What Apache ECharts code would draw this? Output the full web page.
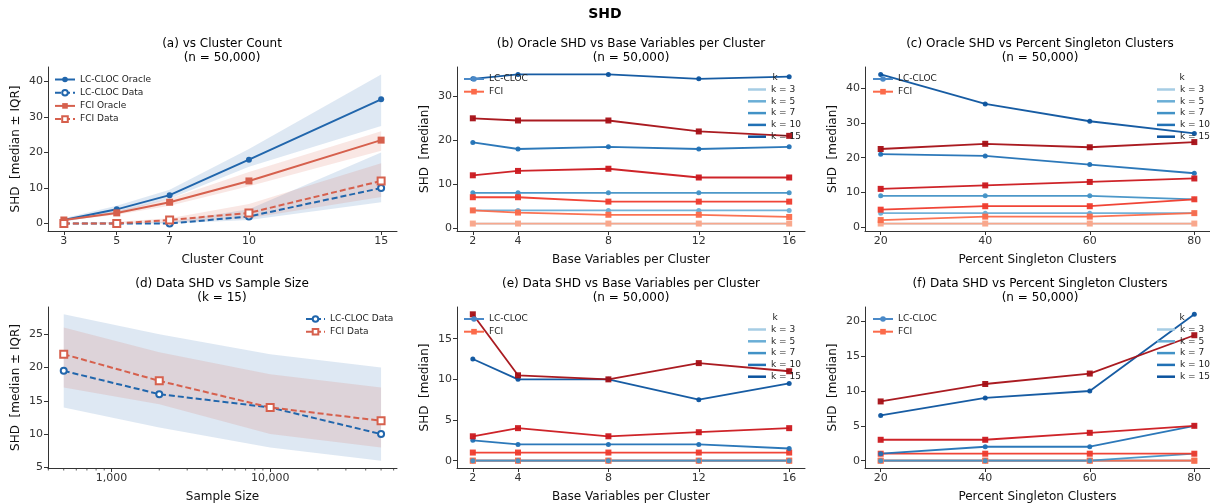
<!DOCTYPE html>
<html>
<head>
<meta charset="UTF-8">
<title>SHD</title>
<script src="https://cdn.jsdelivr.net/npm/echarts@6/dist/echarts.min.js"></script>
<style>
  html, body { margin: 0; padding: 0; background: #fff; }
  #main { width: 1210px; height: 504px; }
</style>
</head>
<body>
<div id="main"></div>
<script>
// ---- data ----
var kLabels = ['k = 3', 'k = 5', 'k = 7', 'k = 10', 'k = 15'];

// (a) vs cluster count
var clusterCounts = [3, 5, 7, 10, 15];
var aLcOracle = [1, 4, 8, 18, 35];
var aLcOracleLo = [0.5, 3, 7, 16, 27.5];
var aLcOracleHi = [1.5, 5, 9.5, 21, 42];
var aLcData = [0, 0, 0, 2, 10];
var aLcDataLo = [0, 0, 0, 1, 6];
var aLcDataHi = [0, 0, 0.5, 4, 20];
var aFciOracle = [1, 3, 6, 12, 23.5];
var aFciOracleLo = [0.8, 2.5, 5, 10.5, 20.5];
var aFciOracleHi = [1.2, 3.5, 7, 14.5, 26];
var aFciData = [0, 0, 1, 3, 12];
var aFciDataLo = [0, 0, 0.3, 1.5, 7.5];
var aFciDataHi = [0, 0.5, 1.5, 5.5, 17];

// (b)/(e) vs base variables per cluster, one row per k
var baseVars = [2, 4, 8, 12, 16];
var bLc = [[1, 1, 1, 1, 1], [4, 4, 4, 4, 4], [8, 8, 8, 8, 8], [19.5, 18, 18.5, 18, 18.5], [34, 35, 35, 34, 34.5]];
var bFci = [[1, 1, 1, 1, 1], [4, 3.5, 3, 3, 2.5], [7, 7, 6, 6, 6], [12, 13, 13.5, 11.5, 11.5], [25, 24.5, 24.5, 22, 21]];
var eLc = [[0, 0, 0, 0, 0], [0, 0, 0, 0, 0], [0, 0, 0, 0, 0], [2.5, 2, 2, 2, 1.5], [12.5, 10, 10, 7.5, 9.5]];
var eFci = [[0, 0, 0, 0, 0], [0, 0, 0, 0, 0], [1, 1, 1, 1, 1], [3, 4, 3, 3.5, 4], [18, 10.5, 10, 12, 11]];

// (c)/(f) vs percent singleton clusters
var singletonPct = [20, 40, 60, 80];
var cLc = [[1, 1, 1, 1], [4, 4, 4, 4], [9, 9, 9, 8], [21, 20.5, 18, 15.5], [44, 35.5, 30.5, 27]];
var cFci = [[1, 1, 1, 1], [2, 3, 3, 4], [5, 6, 6, 8], [11, 12, 13, 14], [22.5, 24, 23, 24.5]];
var fLc = [[0, 0, 0, 0], [0, 0, 0, 0], [0, 0, 0, 1], [1, 2, 2, 5], [6.5, 9, 10, 21]];
var fFci = [[0, 0, 0, 0], [0, 0, 0, 0], [1, 1, 1, 1], [3, 3, 4, 5], [8.5, 11, 12.5, 18]];

// (d) vs sample size (k = 15)
var sampleSizes = [500, 2000, 10000, 50000];
var dLc = [19.5, 16, 14, 10];
var dLcLo = [14, 11, 8, 6];
var dLcHi = [28, 25, 22, 20];
var dFci = [22, 18, 14, 12];
var dFciLo = [17, 14.5, 10, 8];
var dFciHi = [26, 22.3, 19, 17];
var dMinorTicks = [400, 500, 600, 700, 800, 900, 2000, 3000, 4000, 5000, 6000, 7000, 8000, 9000,
                   20000, 30000, 40000, 50000, 60000];

// ---- styling ----
var blue = '#2166ac', red = '#d6604d';
var blues = ['#a6cde4', '#6aaed6', '#4292c6', '#2171b5', '#0b539e'];
var reds = ['#fca588', '#fb6a4a', '#ef3b2c', '#cb181d', '#a50f15'];
var FONT = 'DejaVu Sans';
var AX = '#333';

var grids = [
  {left: 48, top: 67, width: 349, height: 164},
  {left: 457, top: 67, width: 348, height: 164},
  {left: 865, top: 67, width: 349, height: 164},
  {left: 48, top: 307, width: 349, height: 164},
  {left: 457, top: 307, width: 348, height: 164},
  {left: 865, top: 307, width: 349, height: 164}
];

function xAx(gi, opt) {
  return Object.assign({
    gridIndex: gi, type: 'value', nameLocation: 'middle', nameGap: 23,
    nameTextStyle: {fontFamily: FONT, fontSize: 12, color: '#111'},
    axisLine: {show: true, onZero: false, lineStyle: {color: AX, width: 1}},
    axisTick: {show: true, length: 4, lineStyle: {color: AX}},
    axisLabel: {fontFamily: FONT, fontSize: 11, color: '#333', margin: 5},
    splitLine: {show: false}
  }, opt);
}
function yAx(gi, opt) {
  return Object.assign({
    gridIndex: gi, type: 'value', nameLocation: 'middle', nameGap: 26, nameRotate: 90,
    nameTextStyle: {fontFamily: FONT, fontSize: 12, color: '#111'},
    axisLine: {show: true, onZero: false, lineStyle: {color: AX, width: 1}},
    axisTick: {show: true, length: 4, lineStyle: {color: AX}},
    axisLabel: {fontFamily: FONT, fontSize: 11, color: '#333', margin: 5},
    splitLine: {show: false}
  }, opt);
}
function ticks(vals) {
  return {axisTick: {show: true, length: 4, lineStyle: {color: AX}, customValues: vals},
          axisLabel: {fontFamily: FONT, fontSize: 11, color: '#333', margin: 5, customValues: vals}};
}

var xAxes = [
  xAx(0, Object.assign({min: 2.4, max: 15.6, name: 'Cluster Count'}, ticks(clusterCounts))),
  xAx(1, Object.assign({min: 1.3, max: 16.7, name: 'Base Variables per Cluster'}, ticks(baseVars))),
  xAx(2, Object.assign({min: 17, max: 83, name: 'Percent Singleton Clusters'}, ticks(singletonPct))),
  xAx(3, Object.assign({type: 'log', logBase: 10, min: 398, max: 63000, name: 'Sample Size'},
      {axisTick: {show: true, length: 4, lineStyle: {color: AX}, customValues: [1000, 10000]},
       axisLabel: {fontFamily: FONT, fontSize: 11, color: '#333', margin: 5, customValues: [1000, 10000],
                   formatter: function (v) { return v.toLocaleString('en-US'); }}})),
  xAx(4, Object.assign({min: 1.3, max: 16.7, name: 'Base Variables per Cluster'}, ticks(baseVars))),
  xAx(5, Object.assign({min: 17, max: 83, name: 'Percent Singleton Clusters'}, ticks(singletonPct)))
];

var yAxes = [
  yAx(0, Object.assign({min: -2.1, max: 44.1, name: 'SHD  [median \u00b1 IQR]'}, ticks([0, 10, 20, 30, 40]))),
  yAx(1, Object.assign({min: -0.7, max: 36.7, name: 'SHD  [median]'}, ticks([0, 10, 20, 30]))),
  yAx(2, Object.assign({min: -1.15, max: 46.15, name: 'SHD  [median]'}, ticks([0, 10, 20, 30, 40]))),
  yAx(3, Object.assign({min: 4.9, max: 29.1, name: 'SHD  [median \u00b1 IQR]'}, ticks([5, 10, 15, 20, 25]))),
  yAx(4, Object.assign({min: -0.9, max: 18.9, name: 'SHD  [median]'}, ticks([0, 5, 10, 15]))),
  yAx(5, Object.assign({min: -1.05, max: 22.05, name: 'SHD  [median]'}, ticks([0, 5, 10, 15, 20])))
];

function pts(xs, ys) { return xs.map(function (x, i) { return [x, ys[i]]; }); }

function line(name, gi, xs, ys, color, o) {
  o = o || {};
  var item = {color: color, opacity: o.opacity || 1};
  if (o.hollow) { item.borderColor = color; item.borderWidth = 1.4; }
  return {
    type: 'line', name: name, xAxisIndex: gi, yAxisIndex: gi, z: 3,
    data: pts(xs, ys),
    symbol: o.symbol || 'circle', symbolSize: o.size || 5,
    showSymbol: true,
    lineStyle: {color: color, width: o.width || 1.8, type: o.dash ? [6, 3] : 'solid', opacity: o.opacity || 1},
    itemStyle: item,
    emphasis: {disabled: true}, animation: false
  };
}

// shaded IQR band drawn through the axis scale
function band(gi, xs, lo, hi, color) {
  return {
    type: 'custom', xAxisIndex: gi, yAxisIndex: gi, z: 1, silent: true, animation: false,
    data: xs.map(function (x, i) { return [x, lo[i], hi[i]]; }),
    renderItem: function (params, api) {
      if (params.dataIndex !== 0) return null;
      var top = [], bot = [];
      for (var i = 0; i < xs.length; i++) {
        top.push(api.coord([xs[i], hi[i]]));
        bot.unshift(api.coord([xs[i], lo[i]]));
      }
      return {type: 'polygon', shape: {points: top.concat(bot)},
              style: {fill: color, opacity: 0.15}};
    }
  };
}

var series = [];

// (a)
series.push(band(0, clusterCounts, aLcOracleLo, aLcOracleHi, blue));
series.push(band(0, clusterCounts, aLcDataLo, aLcDataHi, blue));
series.push(band(0, clusterCounts, aFciOracleLo, aFciOracleHi, red));
series.push(band(0, clusterCounts, aFciDataLo, aFciDataHi, red));
series.push(line('LC-CLOC Oracle', 0, clusterCounts, aLcOracle, blue, {size: 6, width: 2}));
series.push(line('LC-CLOC Data', 0, clusterCounts, aLcData, blue, {size: 6, width: 2, dash: true, symbol: 'emptyCircle', hollow: true}));
series.push(line('FCI Oracle', 0, clusterCounts, aFciOracle, red, {size: 7, width: 2, symbol: 'rect'}));
series.push(line('FCI Data', 0, clusterCounts, aFciData, red, {size: 7, width: 2, dash: true, symbol: 'emptyRect', hollow: true}));

// (b), (c), (e), (f): per-k lines, blue then red for each k
function kPanel(gi, xs, lc, fci) {
  for (var k = 0; k < kLabels.length; k++) {
    series.push(line('LC ' + gi + ' ' + kLabels[k], gi, xs, lc[k], blues[k], {size: 5, opacity: 0.95}));
    series.push(line('FCI ' + gi + ' ' + kLabels[k], gi, xs, fci[k], reds[k], {size: 6, symbol: 'rect', opacity: 0.95}));
  }
}
kPanel(1, baseVars, bLc, bFci);
kPanel(2, singletonPct, cLc, cFci);
kPanel(4, baseVars, eLc, eFci);
kPanel(5, singletonPct, fLc, fFci);

// (d)
series.push(band(3, sampleSizes, dLcLo, dLcHi, blue));
series.push(band(3, sampleSizes, dFciLo, dFciHi, red));
series.push(line('LC-CLOC Data', 3, sampleSizes, dLc, blue, {size: 6, width: 2, dash: true, symbol: 'emptyCircle', hollow: true}));
series.push(line('FCI Data', 3, sampleSizes, dFci, red, {size: 7, width: 2, dash: true, symbol: 'emptyRect', hollow: true}));
// minor log ticks on (d)
series.push({
  type: 'custom', xAxisIndex: 3, yAxisIndex: 3, silent: true, animation: false, clip: false,
  data: dMinorTicks.map(function (v) { return [v, 4.9]; }),
  renderItem: function (params, api) {
    var p = api.coord([api.value(0), api.value(1)]);
    return {type: 'line', shape: {x1: p[0], y1: p[1], x2: p[0], y2: p[1] + 2.5},
            style: {stroke: AX, lineWidth: 0.8}};
  }
});

// legend-only proxy series
series.push({type: 'line', name: 'LC-CLOC', xAxisIndex: 1, yAxisIndex: 1, data: [],
  symbol: 'circle', symbolSize: 5, lineStyle: {color: '#4a89c8', width: 2}, itemStyle: {color: '#4a89c8'}});
series.push({type: 'line', name: 'FCI', xAxisIndex: 1, yAxisIndex: 1, data: [],
  symbol: 'rect', symbolSize: 6, lineStyle: {color: '#fb6a4a', width: 2}, itemStyle: {color: '#fb6a4a'}});
kLabels.forEach(function (lab, k) {
  series.push({type: 'line', name: lab, xAxisIndex: 1, yAxisIndex: 1, data: [], symbol: 'none',
    lineStyle: {color: blues[k], width: 2.5}, itemStyle: {color: blues[k]}});
});

var legText = {fontFamily: FONT, fontSize: 9, color: '#222', lineHeight: 11};
function legend(names, left, top, gap, w) {
  return {data: names, left: left, top: top, orient: 'vertical', itemWidth: w || 20, itemHeight: 7,
          itemGap: gap, textStyle: legText, selectedMode: false, padding: 0};
}
// k legends: plain line swatches
function kLegend(left, top) {
  return {data: kLabels.map(function (n) { return {name: n, icon: 'rect'}; }),
          left: left, top: top, orient: 'vertical', itemWidth: 18, itemHeight: 2.5,
          itemGap: 0.8, textStyle: legText, selectedMode: false, padding: 0};
}
var legends = [
  legend(['LC-CLOC Oracle', 'LC-CLOC Data', 'FCI Oracle', 'FCI Data'], 54, 74, 2.2),
  legend(['LC-CLOC', 'FCI'], 463, 73.5, 1.7),
  legend(['LC-CLOC', 'FCI'], 872, 73.5, 1.7),
  legend(['LC-CLOC Data', 'FCI Data'], 305, 313.5, 1.7, 19),
  legend(['LC-CLOC', 'FCI'], 463, 313.5, 1.7),
  legend(['LC-CLOC', 'FCI'], 872, 313.5, 1.7),
  kLegend(748, 84),
  kLegend(1157, 84),
  kLegend(748, 324),
  kLegend(1157, 324)
];

function ttl(text, cx, top) {
  return {text: text, left: cx, top: top, textAlign: 'center', padding: 0,
          textStyle: {fontFamily: FONT, fontSize: 12, fontWeight: 'normal', color: '#000', lineHeight: 14}};
}
var titles = [
  {text: 'SHD', left: 605, top: 7, textAlign: 'center', padding: 0,
   textStyle: {fontFamily: FONT, fontSize: 14, fontWeight: 'bold', color: '#000'}},
  ttl('(a) vs Cluster Count\n(n = 50,000)', 222, 37),
  ttl('(b) Oracle SHD vs Base Variables per Cluster\n(n = 50,000)', 631, 37),
  ttl('(c) Oracle SHD vs Percent Singleton Clusters\n(n = 50,000)', 1040, 37),
  ttl('(d) Data SHD vs Sample Size\n(k = 15)', 222, 277),
  ttl('(e) Data SHD vs Base Variables per Cluster\n(n = 50,000)', 631, 277),
  ttl('(f) Data SHD vs Percent Singleton Clusters\n(n = 50,000)', 1040, 277)
];
[[775, 73], [1182, 73], [775, 313], [1182, 313]].forEach(function (p) {
  titles.push({text: 'k', left: p[0], top: p[1], textAlign: 'center', padding: 0,
               textStyle: {fontFamily: FONT, fontSize: 9, fontWeight: 'normal', color: '#222'}});
});

var myChart = echarts.init(document.getElementById('main'), null, {renderer: 'canvas'});
myChart.setOption({
  backgroundColor: '#fff',
  animation: false,
  title: titles,
  legend: legends,
  grid: grids,
  xAxis: xAxes,
  yAxis: yAxes,
  series: series
});
</script>
</body>
</html>
